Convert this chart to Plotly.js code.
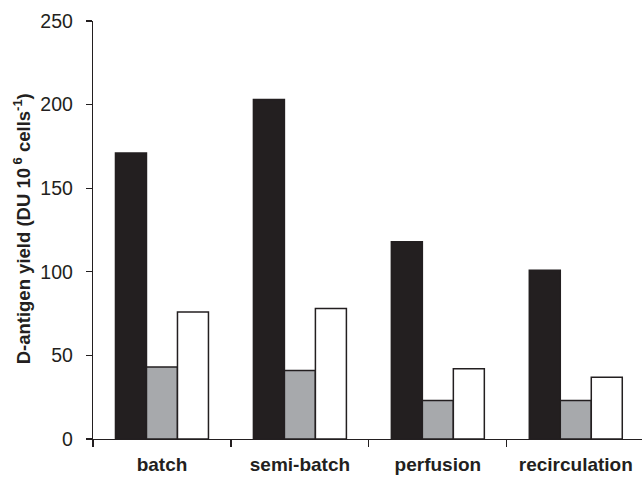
<!DOCTYPE html>
<html>
<head>
<meta charset="utf-8">
<script src="https://cdn.plot.ly/plotly-3.0.1.min.js"></script>
<style>html,body{margin:0;padding:0;background:#fff;}#chart{width:642px;height:480px;}</style>
</head>
<body>
<div id="chart"></div>
<script>
const categories = ["batch", "semi-batch", "perfusion", "recirculation"];
const seriesBlack = [171, 203, 118, 101];
const seriesGray = [43, 41, 23, 23];
const seriesWhite = [76, 78, 42, 37];
const yTicks = [0, 50, 100, 150, 200, 250];

const edge = {color: "#231f20", width: 1.5};
const traces = [
  {type: "bar", x: categories, y: seriesBlack, marker: {color: "#231f20", line: edge}},
  {type: "bar", x: categories, y: seriesGray, marker: {color: "#a7a9ac", line: edge}},
  {type: "bar", x: categories, y: seriesWhite, marker: {color: "#ffffff", line: edge}}
];

const layout = {
  width: 642, height: 480,
  margin: {l: 93, r: 0, t: 21, b: 41},
  paper_bgcolor: "#fff", plot_bgcolor: "#fff",
  showlegend: false,
  barmode: "group",
  bargap: 0.326, bargroupgap: 0,
  font: {family: "Liberation Sans, Arial, sans-serif", color: "#231f20"},
  xaxis: {
    type: "category",
    range: [-0.5, 3.48],
    tickson: "boundaries",
    ticks: "outside", ticklen: 7, tickwidth: 1.2, tickcolor: "#231f20",
    showline: true, linecolor: "#231f20", linewidth: 1.2,
    showgrid: false, zeroline: false,
    tickfont: {size: 19, family: "Liberation Sans, Arial, sans-serif", weight: "bold", color: "#231f20"},
    ticklabelstandoff: 8
  },
  yaxis: {
    range: [0, 250],
    tickvals: yTicks,
    ticks: "outside", ticklen: 6, tickwidth: 1.2, tickcolor: "#231f20",
    showline: true, linecolor: "#231f20", linewidth: 1.2,
    showgrid: false, zeroline: false,
    tickfont: {size: 19.5, color: "#231f20"},
    ticklabelstandoff: 9
  },
  annotations: [{
    text: "<b>D-antigen yield (DU 10<sup> 6</sup> cells<sup>-1</sup>)</b>",
    xref: "paper", yref: "paper",
    x: -0.129, y: 0.502, xanchor: "center", yanchor: "middle",
    textangle: -90, showarrow: false,
    font: {size: 18.5, color: "#231f20"}
  }]
};

Plotly.newPlot("chart", traces, layout, {displayModeBar: false, staticPlot: true});
</script>
</body>
</html>
